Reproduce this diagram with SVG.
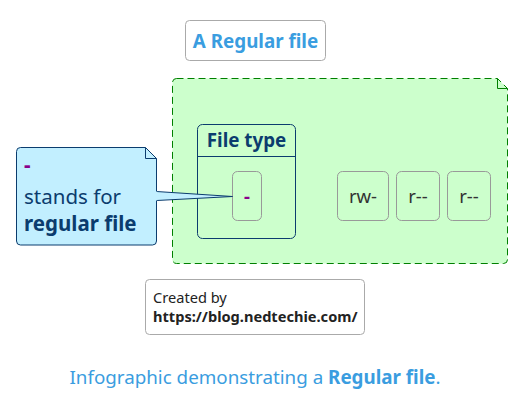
<svg xmlns="http://www.w3.org/2000/svg" width="518" height="418" viewBox="0 0 518 418">
<style>
text{font-family:"Noto Sans","Open Sans","DejaVu Sans",sans-serif}
.perm{fill:none;stroke:#999999;stroke-width:1}
.ptxt{font-size:18.5px;fill:#333333;text-anchor:middle}
.navy{fill:#0b3c6e}
</style>
<rect width="518" height="418" fill="#ffffff"/>
<g id="title">
<rect x="185.5" y="20.5" width="140" height="40" rx="4" fill="#ffffff" stroke="#aaaaaa"/>
<text x="255.5" y="48" font-size="18.8" font-weight="bold" fill="#3a9de0" text-anchor="middle">A Regular file</text>
</g>
<g id="frame">
<path d="M176.5,78.5 H497.5 L507.5,88.5 V259.5 A4,4 0 0 1 503.5,263.5 H176.5 A4,4 0 0 1 172.5,259.5 V82.5 A4,4 0 0 1 176.5,78.5 Z" fill="#ccffcc" stroke="#008000" stroke-dasharray="7,4"/>
<path d="M497.5,78.5 V88.5 H507.5" fill="none" stroke="#008000"/>
</g>
<g id="filetype">
<rect x="197.5" y="124.5" width="98" height="114" rx="5" fill="none" stroke="#0b3c6e"/>
<line x1="197.5" y1="156.5" x2="295.5" y2="156.5" stroke="#0b3c6e"/>
<text x="246.5" y="147" font-size="18.8" font-weight="bold" class="navy" text-anchor="middle">File type</text>
</g>
<g id="type-dash">
<rect x="232.5" y="171.5" width="29" height="49" rx="5" class="perm"/>
<text x="247" y="203" font-size="18.5" font-weight="bold" fill="#8b008b" text-anchor="middle">-</text>
</g>
<g id="owner">
<rect x="337.5" y="171.5" width="51" height="49" rx="5" class="perm"/>
<text x="363" y="203" class="ptxt">rw-</text>
</g>
<g id="group">
<rect x="396.5" y="171.5" width="43" height="49" rx="5" class="perm"/>
<text x="418" y="203" class="ptxt">r--</text>
</g>
<g id="others">
<rect x="447.5" y="171.5" width="43" height="49" rx="5" class="perm"/>
<text x="469" y="203" class="ptxt">r--</text>
</g>
<g id="connectors">
<path d="M156.5,191.5 L232.5,196.5 L156.5,200.5" fill="#c2efff" stroke="#0b3c6e"/>
</g>
<g id="note">
<path d="M20.5,147.5 H145.5 L156.5,158.5 V241 A4,4 0 0 1 152.5,245 H20.5 A4,4 0 0 1 16.5,241 V151.5 A4,4 0 0 1 20.5,147.5 Z" fill="#c2efff" stroke="#0b3c6e"/>
<path d="M145.5,147.5 V158.5 H156.5" fill="none" stroke="#0b3c6e"/>
<line x1="156.5" y1="191.5" x2="156.5" y2="200.5" stroke="#c2efff" stroke-width="1.5"/>
<text x="24" y="172" font-size="20.5" font-weight="bold" fill="#8b008b">-</text>
<text x="24" y="204" font-size="20.5" class="navy">stands for</text>
<text x="24" y="231" font-size="20.5" font-weight="bold" class="navy">regular file</text>
</g>
<g id="credit">
<rect x="145.5" y="279.5" width="219" height="55" rx="4" fill="#ffffff" stroke="#aaaaaa"/>
<text x="153" y="303" font-size="14.6" fill="#222222">Created by</text>
<text x="153" y="322" font-size="14.6" font-weight="bold" fill="#222222">https://blog.nedtechie.com/</text>
</g>
<g id="caption">
<text x="255" y="384" font-size="18.8" fill="#3a9de0" text-anchor="middle">Infographic demonstrating a <tspan font-weight="bold">Regular file</tspan>.</text>
</g>
</svg>
